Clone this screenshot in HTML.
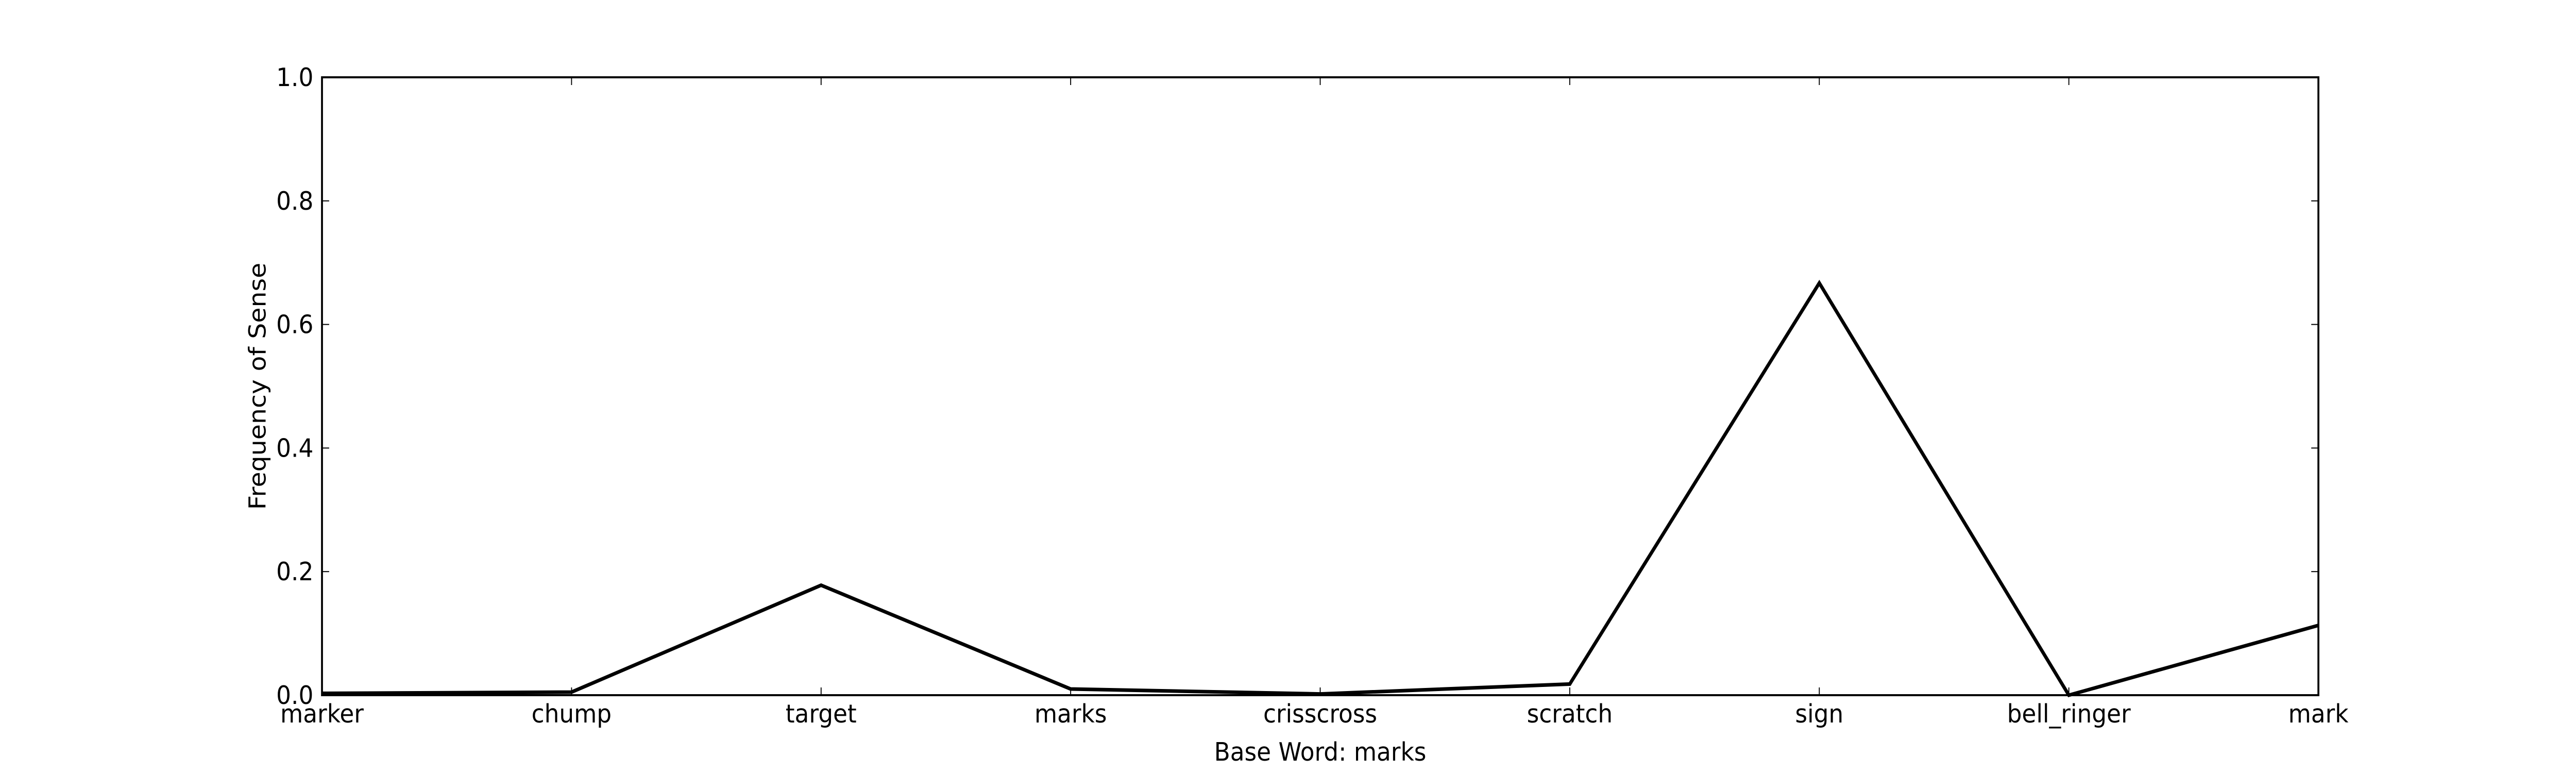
<!DOCTYPE html>
<html><head><meta charset="utf-8"><style>
html,body{margin:0;padding:0;background:#fff;width:100%;height:100%;overflow:hidden;}
svg{display:block;width:100vw;height:100vh;}
svg text{font-family:"DejaVu Sans","Liberation Sans",sans-serif;font-size:49px;fill:#000;}
</style></head><body>
<svg id="chart" viewBox="0 0 5400 1500" preserveAspectRatio="none" xmlns="http://www.w3.org/2000/svg">
<rect width="5400" height="1500" fill="#fff"/>
<g id="g"></g>
</svg>
<script>
const categories = ["marker","chump","target","marks","crisscross","scratch","sign","bell_ringer","mark"];
const values = [0.003,0.005,0.178,0.01,0.002,0.018,0.667,0.0,0.113];
const yTicks = [0.0,0.2,0.4,0.6,0.8,1.0];
const yTickLabels = ["0.0","0.2","0.4","0.6","0.8","1.0"];

const L=675,R=4860,T=150,B=1349;
const NS="http://www.w3.org/2000/svg";
const g=document.getElementById('g');
function x(i){return L+i*(R-L)/(categories.length-1);}
function y(v){return B-v*(B-T);}
function mk(tag,attrs,txt){const e=document.createElementNS(NS,tag);for(const k in attrs)e.setAttribute(k,attrs[k]);if(txt!==undefined)e.textContent=txt;g.appendChild(e);return e;}

yTicks.forEach((v,i)=>{
  const t1=mk('line',{x1:L,x2:L+15,y1:y(v),y2:y(v),stroke:'#000','stroke-width':2});
  
  
  const t2=mk('line',{x1:R-15,x2:R,y1:y(v),y2:y(v),stroke:'#000','stroke-width':2});
  
  
  const lb=mk('text',{x:657,y:y(v)+17,'text-anchor':'end'},yTickLabels[i]);
  
  
});
categories.forEach((c,i)=>{
  const t1=mk('line',{x1:x(i),x2:x(i),y1:B,y2:B-15,stroke:'#000','stroke-width':2});
  
  
  const t2=mk('line',{x1:x(i),x2:x(i),y1:T,y2:T+15,stroke:'#000','stroke-width':2});
  
  
  const lb=mk('text',{x:x(i),y:1402,'text-anchor':'middle'},c);
  
  
});
const pts=values.map((v,i)=>x(i)+','+y(v)).join(' ');
const line=mk('polyline',{points:pts,fill:'none',stroke:'#000','stroke-width':7,'stroke-linejoin':'miter'});


const frame=mk('rect',{x:L,y:T,width:R-L,height:B-T,fill:'none',stroke:'#000','stroke-width':4});


const xl=mk('text',{x:(L+R)/2,y:1476,'text-anchor':'middle'},'Base Word: marks');


const yl=mk('text',{x:0,y:0,'text-anchor':'middle',transform:'translate(557,'+((T+B)/2)+') rotate(-90)'},'Frequency of Sense');


</script>
</body></html>
